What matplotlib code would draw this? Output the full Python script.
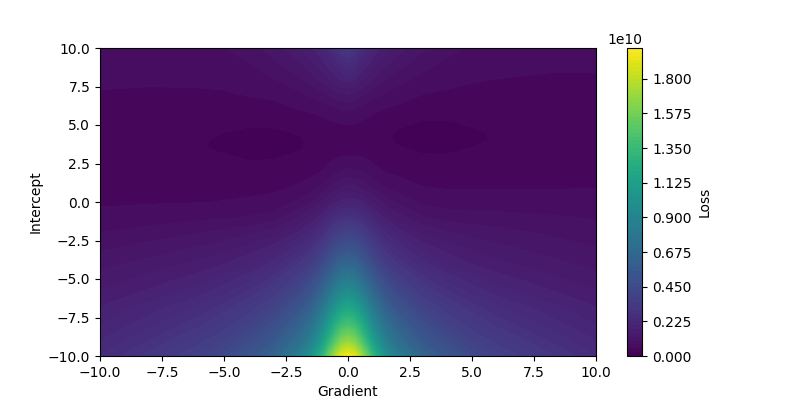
import numpy as np
import matplotlib
matplotlib.use("Agg")
import matplotlib.pyplot as plt

# grid (loss in units of 1e10)
gradient = [-10, -8, -6, -5, -4, -3, -2, -1.5, -1, -0.75, -0.5, -0.25, 0,
            0.25, 0.5, 0.75, 1, 1.5, 2, 3, 4, 5, 6, 8, 10]
intercept = [-10, -9, -8, -7, -6, -5, -4, -3, -2, -1, 0, 1, 2, 3, 3.5,
             4, 4.5, 5, 6, 7, 8, 9, 10]

loss_rows = [
    [0.25, 0.311, 0.385, 0.44, 0.518, 0.631, 0.838, 1.011, 1.323, 1.548, 1.755, 1.919, 1.98, 1.919, 1.755, 1.548, 1.323, 1.011, 0.838, 0.631, 0.518, 0.44, 0.385, 0.311, 0.25],
    [0.225, 0.275, 0.337, 0.383, 0.447, 0.541, 0.713, 0.856, 1.115, 1.301, 1.473, 1.61, 1.66, 1.61, 1.473, 1.301, 1.115, 0.856, 0.713, 0.541, 0.447, 0.383, 0.337, 0.275, 0.225],
    [0.20, 0.243, 0.295, 0.334, 0.389, 0.468, 0.615, 0.737, 0.956, 1.115, 1.261, 1.377, 1.42, 1.377, 1.261, 1.115, 0.956, 0.737, 0.615, 0.468, 0.389, 0.334, 0.295, 0.243, 0.20],
    [0.18, 0.216, 0.26, 0.292, 0.338, 0.404, 0.527, 0.629, 0.812, 0.945, 1.067, 1.164, 1.20, 1.164, 1.067, 0.945, 0.812, 0.629, 0.527, 0.404, 0.338, 0.292, 0.26, 0.216, 0.18],
    [0.155, 0.185, 0.221, 0.248, 0.286, 0.341, 0.442, 0.527, 0.679, 0.789, 0.89, 0.97, 1.00, 0.97, 0.89, 0.789, 0.679, 0.527, 0.442, 0.341, 0.286, 0.248, 0.221, 0.185, 0.155],
    [0.135, 0.159, 0.188, 0.21, 0.241, 0.286, 0.368, 0.436, 0.56, 0.649, 0.731, 0.796, 0.82, 0.796, 0.731, 0.649, 0.56, 0.436, 0.368, 0.286, 0.241, 0.21, 0.188, 0.159, 0.135],
    [0.115, 0.134, 0.157, 0.174, 0.198, 0.233, 0.297, 0.35, 0.447, 0.516, 0.58, 0.631, 0.65, 0.631, 0.58, 0.516, 0.447, 0.35, 0.297, 0.233, 0.198, 0.174, 0.157, 0.134, 0.115],
    [0.095, 0.11, 0.127, 0.141, 0.159, 0.186, 0.236, 0.278, 0.352, 0.406, 0.456, 0.495, 0.51, 0.497, 0.461, 0.412, 0.358, 0.283, 0.241, 0.191, 0.163, 0.145, 0.132, 0.115, 0.101],
    [0.075, 0.086, 0.10, 0.108, 0.118, 0.138, 0.18, 0.214, 0.27, 0.311, 0.349, 0.379, 0.39, 0.381, 0.357, 0.32, 0.28, 0.224, 0.19, 0.148, 0.126, 0.116, 0.109, 0.097, 0.087],
    [0.056, 0.062, 0.068, 0.072, 0.077, 0.088, 0.125, 0.152, 0.195, 0.224, 0.251, 0.272, 0.28, 0.275, 0.262, 0.237, 0.209, 0.166, 0.139, 0.103, 0.089, 0.086, 0.084, 0.078, 0.073],
    [0.047, 0.048, 0.049, 0.051, 0.053, 0.057, 0.08, 0.098, 0.13, 0.15, 0.168, 0.184, 0.19, 0.187, 0.18, 0.164, 0.146, 0.114, 0.096, 0.069, 0.063, 0.062, 0.061, 0.061, 0.06],
    [0.039, 0.04, 0.042, 0.042, 0.043, 0.045, 0.052, 0.06, 0.082, 0.097, 0.11, 0.125, 0.13, 0.127, 0.119, 0.107, 0.094, 0.071, 0.062, 0.05, 0.047, 0.047, 0.047, 0.047, 0.049],
    [0.034, 0.033, 0.033, 0.032, 0.034, 0.034, 0.04, 0.043, 0.051, 0.06, 0.068, 0.077, 0.08, 0.078, 0.074, 0.067, 0.059, 0.048, 0.044, 0.038, 0.038, 0.037, 0.039, 0.039, 0.041],
    [0.031, 0.029, 0.028, 0.027, 0.021, 0.022, 0.029, 0.033, 0.038, 0.042, 0.046, 0.048, 0.049, 0.049, 0.049, 0.045, 0.041, 0.036, 0.032, 0.027, 0.027, 0.029, 0.031, 0.033, 0.035],
    [0.031, 0.029, 0.027, 0.02, 0.0125, 0.013, 0.022, 0.029, 0.035, 0.038, 0.041, 0.043, 0.044, 0.044, 0.043, 0.041, 0.038, 0.033, 0.028, 0.019, 0.018, 0.026, 0.03, 0.031, 0.033],
    [0.032, 0.03, 0.029, 0.019, 0.011, 0.012, 0.021, 0.03, 0.034, 0.036, 0.038, 0.039, 0.04, 0.04, 0.039, 0.037, 0.035, 0.031, 0.02, 0.012, 0.011, 0.019, 0.028, 0.029, 0.032],
    [0.034, 0.031, 0.029, 0.025, 0.017, 0.018, 0.027, 0.032, 0.037, 0.04, 0.042, 0.043, 0.044, 0.043, 0.042, 0.04, 0.037, 0.033, 0.021, 0.013, 0.012, 0.02, 0.029, 0.029, 0.032],
    [0.036, 0.033, 0.031, 0.029, 0.028, 0.03, 0.034, 0.038, 0.041, 0.044, 0.046, 0.048, 0.049, 0.048, 0.045, 0.042, 0.039, 0.036, 0.029, 0.021, 0.021, 0.027, 0.03, 0.03, 0.032],
    [0.042, 0.039, 0.037, 0.036, 0.036, 0.04, 0.05, 0.053, 0.058, 0.064, 0.07, 0.076, 0.078, 0.075, 0.066, 0.06, 0.054, 0.049, 0.044, 0.036, 0.034, 0.033, 0.033, 0.034, 0.035],
    [0.048, 0.046, 0.046, 0.047, 0.052, 0.056, 0.07, 0.08, 0.095, 0.104, 0.112, 0.122, 0.126, 0.121, 0.106, 0.096, 0.086, 0.072, 0.063, 0.05, 0.046, 0.042, 0.04, 0.04, 0.041],
    [0.055, 0.054, 0.056, 0.058, 0.062, 0.075, 0.095, 0.11, 0.135, 0.151, 0.165, 0.183, 0.19, 0.181, 0.157, 0.142, 0.125, 0.101, 0.086, 0.067, 0.058, 0.053, 0.05, 0.047, 0.047],
    [0.063, 0.062, 0.065, 0.068, 0.075, 0.094, 0.12, 0.14, 0.17, 0.191, 0.21, 0.236, 0.245, 0.234, 0.203, 0.183, 0.161, 0.131, 0.111, 0.086, 0.07, 0.063, 0.059, 0.055, 0.054],
    [0.072, 0.072, 0.074, 0.073, 0.088, 0.112, 0.145, 0.17, 0.2, 0.231, 0.26, 0.304, 0.32, 0.302, 0.253, 0.224, 0.193, 0.161, 0.136, 0.105, 0.083, 0.071, 0.068, 0.063, 0.061],
]

loss = np.array(loss_rows) * 1e10
levels = np.linspace(0, 2e10, 81)

plt.figure(figsize=(8, 4), dpi=100)
cs = plt.contourf(gradient, intercept, loss, levels=levels, cmap='viridis')
cbar = plt.colorbar(cs)
cbar.set_label('Loss')
plt.xlabel('Gradient')
plt.ylabel('Intercept')
plt.savefig('out.png')
